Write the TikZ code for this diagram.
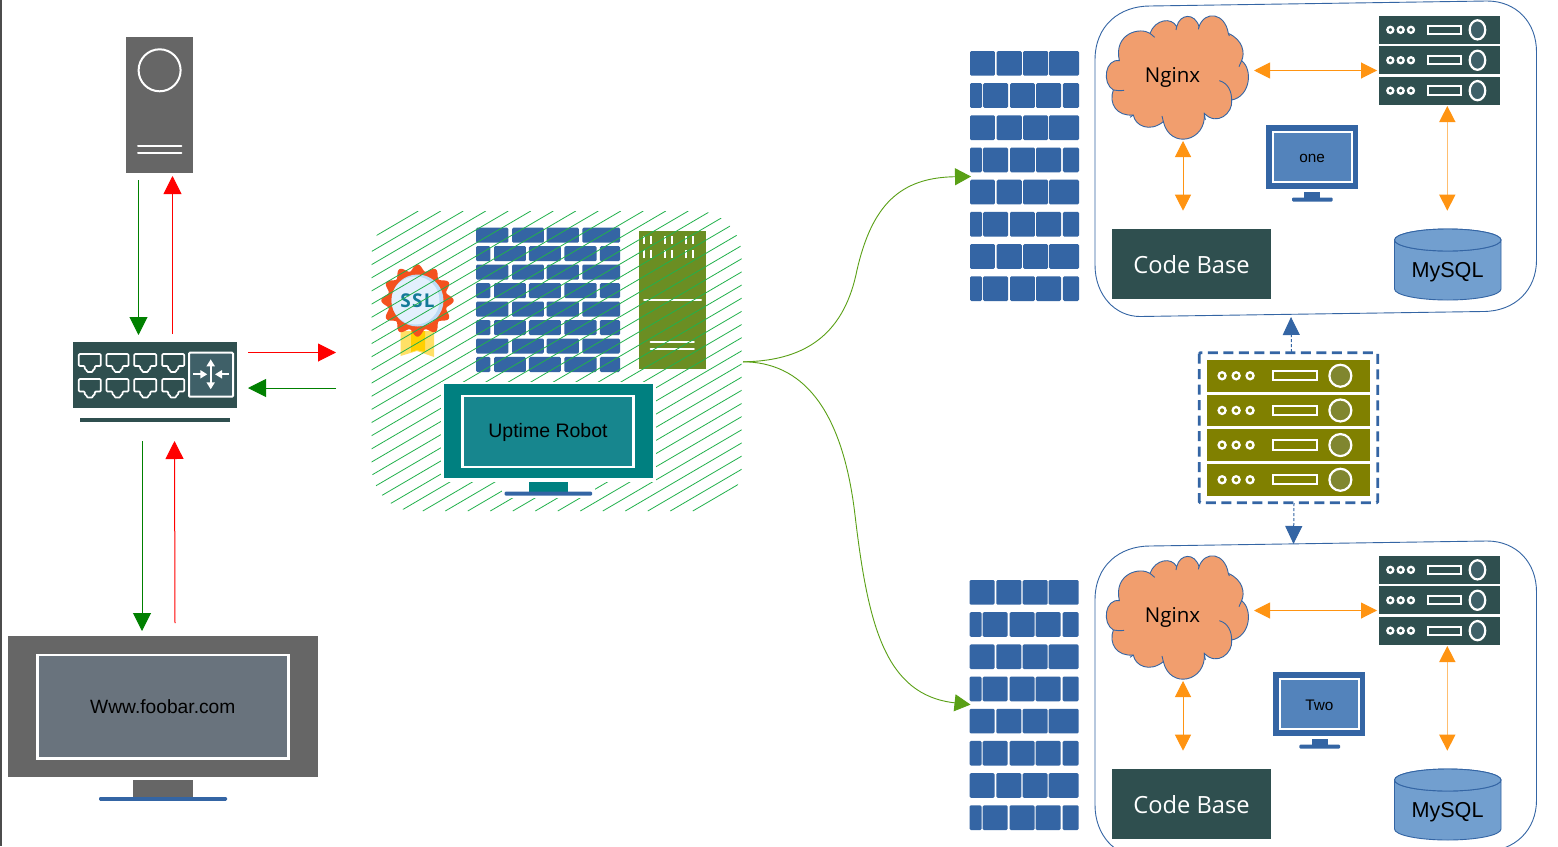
\documentclass[tikz,border=0pt]{standalone}
\usepackage{fontspec}
\setmainfont{Liberation Sans}
\newfontfamily\opensans{Open Sans}
\usetikzlibrary{arrows.meta}
\definecolor{dslate}{HTML}{2F4F4F}
\definecolor{slatein}{HTML}{3F6068}
\definecolor{blu}{HTML}{3465A4}
\definecolor{oliv}{HTML}{808000}
\definecolor{olivin}{HTML}{80862F}
\definecolor{grn}{HTML}{6B8E23}
\definecolor{gry}{HTML}{666666}
\definecolor{org}{HTML}{FF9412}
\definecolor{cloudf}{HTML}{F19E6E}
\definecolor{hatchc}{HTML}{22B14C}
\definecolor{curvec}{HTML}{5AA016}
\definecolor{cyl}{HTML}{729FCF}
\definecolor{sitescreen}{HTML}{69737D}
\definecolor{tealscreen}{HTML}{17868E}
\definecolor{bluscreen}{HTML}{5383BB}
\definecolor{sslred}{HTML}{F4511E}
\definecolor{sslpale}{HTML}{E3F0FD}
\definecolor{sslring}{HTML}{BCDCF5}
\definecolor{ssltext}{HTML}{147A99}
\definecolor{ribbon}{HTML}{FFE066}
\definecolor{ribbonmid}{HTML}{FFD000}
\definecolor{lightorg}{HTML}{FFBE70}
\tikzset{
  heada/.tip={Triangle[length=18pt,width=18pt]},
  headb/.tip={Triangle[length=16pt,width=16pt,color=org,fill=org]},
  redarrow/.style={draw=red,line width=1pt,-{heada},red},
  greenarrow/.style={draw=green!50!black,line width=1pt,-{heada},green!50!black},
  orangearrow/.style={draw=org,line width=1pt,{headb}-{headb}},
  dasharrow/.style={draw=blu,line width=1pt,dash pattern=on 3pt off 2pt,-{Triangle[length=18pt,width=17pt]},blu},
  curvearrow/.style={draw=curvec,line width=.9pt,-{Triangle[length=16pt,width=17pt]},curvec},
  whiteline/.style={draw=white,line width=2pt,line cap=round},
  labeltext/.style={text=black,inner sep=0pt},
}
\def\bigA{0/.229,.245/.475,.487/.716,.725/1}
\def\bigB{0/.11,.12/.349,.367/.596,.606/.835,.853/1}
\def\midA{0/.225,.25/.472,.49/.715,.738/1}
\def\midB{0/.10,.125/.347,.368/.59,.614/.838,.86/1}
% x y w h brickheight listA listB
\newcommand\brickwall[7]{%
  \begin{scope}[shift={(#1,#2)},x=#3pt,y=-#4pt]
    \foreach \r in {0,2,4,6}{\foreach \a/\b in #6{
      \fill[blu,rounded corners=1.3pt] (\a,{\r*(1-#5)/7}) rectangle (\b,{\r*(1-#5)/7+#5});}}
    \foreach \r in {1,3,5,7}{\foreach \a/\b in #7{
      \fill[blu,rounded corners=1.3pt] (\a,{\r*(1-#5)/7}) rectangle (\b,{\r*(1-#5)/7+#5});}}
  \end{scope}}
% x y w h fill inner rx ry dotr
\newcommand\rackunit[9]{%
  \begin{scope}[shift={(#1,#2)},x=#3pt,y=-#4pt]
    \fill[#5] (0,0) rectangle (1,1);
    \foreach \d in {.094,.18,.265}{\draw[white,fill=#5,line width=2.3pt] (\d,.5) circle [radius=#9pt];}
    \draw[white,fill=#5,line width=2pt] (.405,.35) rectangle (.677,.65);
    \draw[white,fill=#6,line width=2.2pt] (.817,.5) ellipse [x radius=#7pt,y radius=#8pt];
  \end{scope}}
\newcommand\port[3]{%
  \begin{scope}[shift={(#1,#2)}]
    \draw[white,line width=1.7pt,line join=round,rounded corners=1pt] (0,0) -- (22,0) -- (22,#3-6) -- (16,#3-6) -- (16,#3-2.5) -- (14,#3-2.5) -- (14,#3) -- (8,#3) -- (8,#3-2.5) -- (6,#3-2.5) -- (6,#3-6) -- (0,#3-6) -- cycle;
  \end{scope}}
\newcommand\appgroup[2]{%
  \begin{scope}[shift={(0,#1)}]
    \draw[blu,line width=.9pt] (1095,60) .. controls (1095,25) and (1120,6) .. (1150,6)
      -- (1487,1) .. controls (1516,1) and (1536.5,22) .. (1536.5,52)
      -- (1536.5,260) .. controls (1536.5,290) and (1515,311.5) .. (1483,311.5)
      -- (1140,316.5) .. controls (1115,316.5) and (1095,295) .. (1095,265) -- cycle;
    \begin{scope}[shift={(1100,10)},x=.3333pt,y=-.3333pt]
      \draw[blu,fill=cloudf,line width=.9pt] (58,152)
        .. controls (40,70) and (120,50) .. (150,70)
        .. controls (165,28) and (215,20) .. (230,50)
        .. controls (240,10) and (285,8) .. (297,50)
        .. controls (315,0) and (375,8) .. (385,70)
        .. controls (430,90) and (435,130) .. (425,152)
        .. controls (460,180) and (450,260) .. (395,270)
        .. controls (400,310) and (350,350) .. (313,310)
        .. controls (320,395) and (210,420) .. (190,335)
        .. controls (150,368) and (105,348) .. (100,315)
        .. controls (50,320) and (25,280) .. (40,240)
        .. controls (5,220) and (15,145) .. (58,152) -- cycle;
      \draw[blu,line width=.9pt] (358,212) .. controls (385,220) and (395,245) .. (395,270);
      \draw[blu,line width=.9pt] (40,240) .. controls (50,242) and (62,243) .. (72,241);
      \draw[blu,line width=.9pt] (150,70) -- (164,82);
      \draw[blu,line width=.9pt] (297,50) -- (295,58);
      \draw[blu,line width=.9pt] (230,50) -- (228,60);
      \draw[blu,line width=.9pt] (385,70) -- (388,78);
      \draw[blu,line width=.9pt] (425,152) -- (417,170);
      \draw[blu,line width=.9pt] (313,310) -- (316,330);
      \draw[blu,line width=.9pt] (190,335) -- (186,318);
      \draw[blu,line width=.9pt] (100,315) -- (90,322);
    \end{scope}
    \node[labeltext,font=\opensans\fontsize{20.5}{24}\selectfont] (nginx#2) at (1172.5,77) {Nginx};
    \rackunit{1379}{16}{120.5}{27.7}{dslate}{slatein}{7.8}{9.6}{3}
    \rackunit{1379}{46.4}{120.5}{27.7}{dslate}{slatein}{7.8}{9.6}{3}
    \rackunit{1379}{76.8}{120.5}{27.7}{dslate}{slatein}{7.8}{9.6}{3}
    \node[fill=dslate,minimum width=159pt,minimum height=70.6pt,inner sep=0pt,text=white,font=\opensans\fontsize{23.7}{28}\selectfont] (code#2) at (1191.5,264) {};
    \node[inner sep=0pt,text=white,font=\opensans\fontsize{23.7}{28}\selectfont] (codetext#2) at (1191.5,265) {Code Base};
    \draw[blu,fill=cyl,line width=.9pt] (1394.5,240) -- (1394.5,289) arc[start angle=180,end angle=360,x radius=53.25pt,y radius=11pt] -- (1501,240) arc[start angle=0,end angle=360,x radius=53.25pt,y radius=11pt];
    \draw[blu,line width=.9pt,fill=cyl] (1447.75,240) ellipse [x radius=53.25pt,y radius=11pt];
    \node[labeltext,font=\fontsize{21.6}{26}\selectfont] (mysql#2) at (1447.5,272) {MySQL};
    \coordinate (nginxR#2) at (1254,70.5);
    \coordinate (rackL#2) at (1377,70.5);
    \coordinate (nginxB#2) at (1183,141);
    \coordinate (codeT#2) at (1183,210.7);
    \coordinate (rackB#2) at (1447.3,106);
    \coordinate (mysqlT#2) at (1447.3,210.7);
    \draw[orangearrow] (nginxR#2) -- (rackL#2);
    \draw[orangearrow] (nginxB#2) -- (codeT#2);
    \draw[orangearrow,draw=lightorg,line width=1.5pt] (rackB#2) -- (mysqlT#2);
  \end{scope}}
% small monitor at x y, text
\newcommand\smallmonitor[4]{%
  \begin{scope}[shift={(#1,#2)}]
    \fill[blu] (0,0) rectangle (92,63.7);
    \fill[blu] (38.3,66.7) rectangle (54.3,73);
    \fill[blu,rounded corners=1.2pt] (26,72.5) rectangle (66.7,76.7);
    \node[draw=white,fill=bluscreen,line width=2.3pt,minimum width=79pt,minimum height=50pt,inner sep=0pt] (#4) at (46.2,31.7) {};
    \node[inner sep=0pt,font=\fontsize{15.3}{18}\selectfont,text=black] (#4text) at (46,33) {#3};
  \end{scope}}
\begin{document}
\begin{tikzpicture}[x=1pt,y=-1pt]
\useasboundingbox (0,0) rectangle (1558,846);
\fill[white] (0,0) rectangle (1558,846);
\fill[black!70] (0,0) rectangle (1.5,846);
% tower
\fill[gry] (126.3,36.7) rectangle (193,172.7);
\draw[white,line width=2pt] (159.6,70.3) circle [radius=21pt];
\draw[whiteline] (138,146.3) -- (181.3,146.3);
\draw[whiteline] (138,153.3) -- (181.3,153.3);
\coordinate (towerL) at (138.5,180);
\coordinate (towerR) at (172.5,176);
% switch
\fill[dslate] (73.3,341.7) rectangle (237.3,407.7);
\fill[dslate] (80.3,418) rectangle (230.3,422);
\foreach \px in {78.8,106.5,134.2,162.2}{\port{\px}{354}{18}\port{\px}{379}{18.5}}
\draw[white,fill=slatein,line width=2pt,rounded corners=1pt] (189,352.7) rectangle (233,396.7);
\draw[white,line width=2pt,{Triangle[length=7pt,width=8pt]}-{Triangle[length=7pt,width=8pt]}] (210.7,359.3) -- (210.7,389.3);
\draw[white,line width=2pt,-{Triangle[length=7pt,width=8pt]}] (193.3,374.3) -- (207.3,374.3);
\draw[white,line width=2pt,-{Triangle[length=7pt,width=8pt]}] (229,374.3) -- (215,374.3);
\coordinate (swTopL) at (138.5,335);
\coordinate (swTopR) at (172.5,334);
\coordinate (swBotL) at (142,441);
\coordinate (swBotR) at (174.5,441);
\coordinate (swOutR) at (248,352.5);
\coordinate (swInR) at (248,388);
\coordinate (gwInR) at (336,352.5);
\coordinate (gwOutR) at (336,388);
\coordinate (siteL) at (142,631);
\coordinate (siteR) at (175,623);
% left monitor
\fill[gry] (8,636) rectangle (317.7,777);
\fill[gry] (133,780) rectangle (192.7,797.5);
\fill[blu,rounded corners=1.2pt] (99,797) rectangle (227,800.9);
\node[draw=white,fill=sitescreen,line width=2.8pt,minimum width=251pt,minimum height=103.5pt,inner sep=0pt,font=\fontsize{19.2}{23}\selectfont,text=black] (site) at (162.8,706.8) {Www.foobar.com};
\draw[greenarrow] (towerL) -- (swTopL);
\draw[redarrow] (swTopR) -- (towerR);
\draw[greenarrow] (swBotL) -- (siteL);
\draw[redarrow] (siteR) -- (swBotR);
\draw[redarrow] (swOutR) -- (gwInR);
\draw[greenarrow] (gwOutR) -- (swInR);
% gateway group: icons below the hatching
\fill[ribbon] (400.5,331) -- (400.5,356) -- (417,351) -- (434,357) -- (434,331) -- cycle;
\fill[ribbonmid] (411,331) -- (411,352) -- (417,350) -- (425,352) -- (425,331) -- cycle;
\fill[sslred] plot[domain=0:360,samples=181,smooth] ({417.5+(33+3.2*cos(12*\x))*cos(\x)},{300.5+(33+3.2*cos(12*\x))*sin(\x)}) -- cycle;
\fill[sslring] (417.5,300.5) circle [radius=26pt];
\fill[sslpale] (415.5,300.5) circle [radius=24pt];
\node[inner sep=0pt,text=ssltext,font=\opensans\bfseries\fontsize{19}{21}\selectfont] (ssl) at (417.5,301) {S\kern1.2pt S\kern1.2pt L};
\brickwall{476}{227.7}{144}{144.3}{.104}{\midA}{\midB}
\fill[grn] (639,231) rectangle (705.7,369);
\foreach \sx in {644,651.3,665,672.3,685.7,693}{
  \draw[white,line width=2.2pt] (\sx,236) -- (\sx,244);
  \draw[white,line width=2.2pt] (\sx,250.3) -- (\sx,258.3);}
\draw[whiteline] (644,299.7) -- (701,299.7);
\draw[whiteline] (650.5,342.3) -- (693.8,342.3);
\draw[whiteline] (650.5,349.3) -- (693.8,349.3);
% hatching
\begin{scope}
  \clip[rounded corners=45pt] (371.7,211) rectangle (741.7,511.5);
  \foreach \k in {-3,...,38}{
    \draw[hatchc,line width=.8pt] ({418.3+22.5*\k},211) -- ({418.3+22.5*\k-513},511);}
\end{scope}
% Uptime Robot monitor
\fill[white] (441,381.7) rectangle (656,481.5);
\fill[white] (502,481) rectangle (595,498);
\fill[teal] (444,384.3) rectangle (652.7,478.3);
\fill[teal] (528.7,481.7) rectangle (568,491.7);
\fill[blu,rounded corners=1.2pt] (504.7,491.5) rectangle (592,495.7);
\node[draw=white,fill=tealscreen,line width=2.6pt,minimum width=171pt,minimum height=71pt,inner sep=0pt] (uptime) at (548.2,431.3) {};
\node[inner sep=0pt,font=\fontsize{19.5}{23}\selectfont,text=black] (uptimetext) at (548,432.5) {Uptime Robot};
% curves
\coordinate (gw) at (743,361.8);
\coordinate (wallA) at (971,176.5);
\coordinate (wallB) at (970.5,704.6);
\draw[curvearrow] (gw) .. controls (810,361) and (845,330) .. (857,270) .. controls (872,205) and (900,177.5) .. (wallA);
\draw[curvearrow] (gw) .. controls (800,362) and (842,405) .. (855,515) .. controls (868,625) and (885,695) .. (wallB);
% walls
\brickwall{970}{51}{109}{250}{.0988}{\bigA}{\bigB}
\brickwall{969.6}{580}{109}{250}{.0988}{\bigA}{\bigB}
% app groups
\appgroup{0}{a}
\appgroup{540}{b}
\smallmonitor{1266}{125}{one}{mona}
\smallmonitor{1273.3}{672}{Two}{monb}
% olive stack
\foreach \sy in {360,394.7,429.3,464}{\rackunit{1206.7}{\sy}{163.6}{31.5}{oliv}{olivin}{11}{11}{3.5}}
\draw[blu,line width=2.8pt,dash pattern=on 10pt off 5.5pt,rounded corners=1pt] (1199.3,352.7) rectangle (1377.7,502.7);
\coordinate (olivT) at (1291.5,352);
\coordinate (olivB) at (1294,503);
\coordinate (appaB) at (1291,317);
\coordinate (appbT) at (1293.5,544);
\draw[dasharrow] (olivT) -- (appaB);
\draw[dasharrow] (olivB) -- (appbT);
\end{tikzpicture}
\end{document}
